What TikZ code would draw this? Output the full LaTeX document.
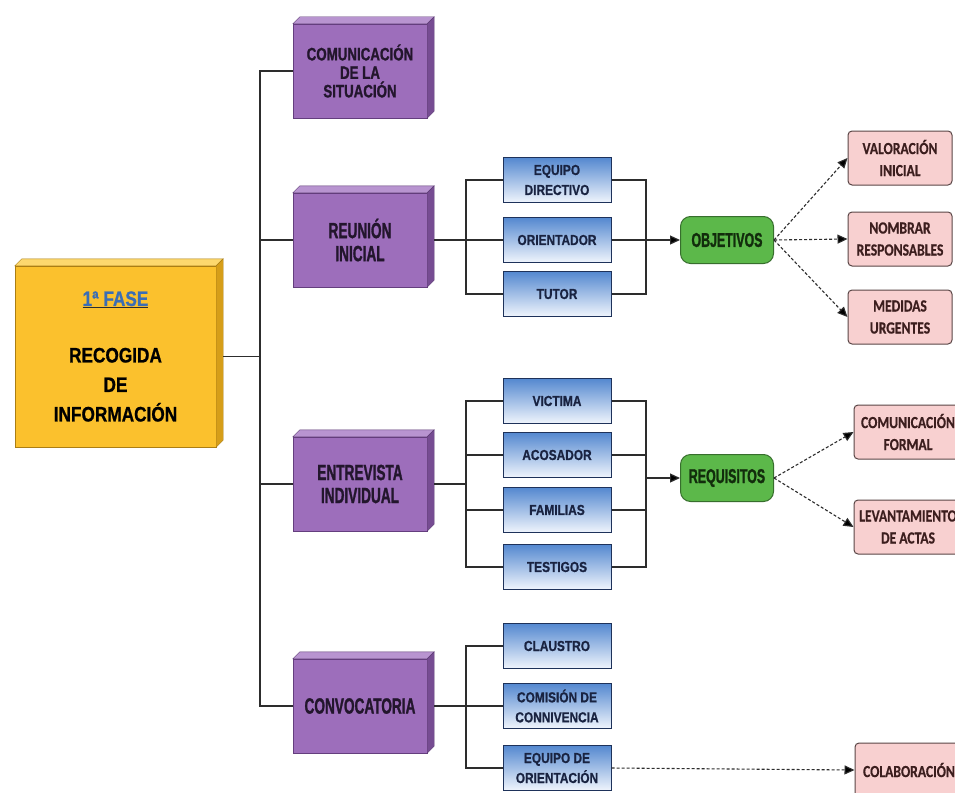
\documentclass[tikz,border=0pt]{standalone}
\usepackage{fontspec}
\setmainfont{Liberation Sans}
\newfontfamily\condfont[FakeStretch=0.62,BoldFeatures={FakeBold=1.2}]{Liberation Sans}
\newfontfamily\comufont[FakeStretch=0.74,BoldFeatures={FakeBold=1.2}]{Liberation Sans}
\newfontfamily\narrowfont[FakeStretch=0.82,BoldFeatures={FakeBold=0.8}]{Liberation Sans}
\newfontfamily\pinkfont[FakeStretch=0.8,BoldFeatures={FakeBold=0.5}]{Carlito}
\usetikzlibrary{arrows.meta}

\definecolor{linegray}{RGB}{45,45,45}
\definecolor{faseyellow}{RGB}{251,193,45}
\definecolor{faseyellowtop}{RGB}{253,216,110}
\definecolor{faseyellowside}{RGB}{214,158,25}
\definecolor{fasetitle}{RGB}{58,109,181}
\definecolor{fasepurple}{RGB}{157,110,187}
\definecolor{fasepurpletop}{RGB}{184,148,208}
\definecolor{fasepurpleside}{RGB}{118,76,146}
\definecolor{purpleline}{RGB}{100,62,126}
\definecolor{purpletext}{RGB}{35,22,45}
\definecolor{bluetop}{RGB}{84,136,208}
\definecolor{bluebottom}{RGB}{240,245,252}
\definecolor{blueline}{RGB}{30,50,90}
\definecolor{bluetext}{RGB}{25,35,65}
\definecolor{greenfill}{RGB}{92,184,74}
\definecolor{greenline}{RGB}{55,110,45}
\definecolor{greentext}{RGB}{18,45,12}
\definecolor{pinkfill}{RGB}{248,208,208}
\definecolor{pinkline}{RGB}{90,70,70}
\definecolor{pinktext}{RGB}{60,30,30}

% top and right faces of a raised box
\newcommand\slab[3]{%
  \filldraw[draw=#3!80!black,fill=#2] (#1.north west) -- ++(7,-7) -- ([shift={(7,-7)}]#1.north east) -- (#1.north east) -- cycle;
  \filldraw[draw=#3!80!black,fill=#3] (#1.north east) -- ++(7,-7) -- ([shift={(7,-7)}]#1.south east) -- (#1.south east) -- cycle;}

\begin{document}
\begin{tikzpicture}[x=1pt,y=-1pt,
  conn/.style={draw=linegray,line width=1.2pt},
  solidarrow/.style={draw=linegray,line width=1.2pt,-{Triangle[length=10pt,width=9pt,fill=black]}},
  dasharrow/.style={draw=linegray,line width=1.1pt,dash pattern=on 3pt off 2pt,-{Triangle[length=10pt,width=9pt,fill=black]}},
  phasebox/.style={draw=faseyellowside!80!black,fill=faseyellow,minimum width=201pt,minimum height=181pt,align=center,
    font=\narrowfont\bfseries\fontsize{21}{29.5}\selectfont},
  stagebox/.style={draw=purpleline,fill=fasepurple,text=purpletext,minimum width=134pt,minimum height=94pt,align=center,
    font=\condfont\bfseries\fontsize{22}{23}\selectfont},
  actorbox/.style={draw=blueline,line width=1pt,top color=bluetop,bottom color=bluebottom,text=bluetext,
    minimum width=108pt,minimum height=45pt,align=center,font=\narrowfont\bfseries\fontsize{14.5}{20}\selectfont},
  goalbox/.style={draw=greenline,line width=1pt,fill=greenfill,text=greentext,rounded corners=10pt,
    minimum width=93pt,minimum height=47pt,font=\condfont\bfseries\fontsize{20}{22}\selectfont},
  taskbox/.style={draw=pinkline,line width=1pt,fill=pinkfill,text=pinktext,rounded corners=4pt,
    minimum width=104pt,minimum height=54pt,align=center,font=\pinkfont\bfseries\fontsize{17}{22}\selectfont}]
\useasboundingbox (0,0) rectangle (955,792);
\fill[white] (0,0) rectangle (955,792);
\clip (0,0) rectangle (955,792);

% fase
    \node[phasebox] (fase) at (115.5,356.5) {{\color{linegray}\underline{\color{fasetitle}1ª FASE}}\\[27pt]RECOGIDA\\DE\\INFORMACIÓN};
    \slab{fase}{faseyellowtop}{faseyellowside}

% stages
    \node[stagebox,font=\comufont\bfseries\fontsize{18}{18.5}\selectfont] (comu) at (360,71) {COMUNICACIÓN\\DE LA\\SITUACIÓN};
    \node[stagebox] (reun) at (360,240) {REUNIÓN\\INICIAL};
    \node[stagebox] (entr) at (360,484) {ENTREVISTA\\INDIVIDUAL};
    \node[stagebox] (conv) at (360,706) {CONVOCATORIA};
    \slab{comu}{fasepurpletop}{fasepurpleside}
    \slab{reun}{fasepurpletop}{fasepurpleside}
    \slab{entr}{fasepurpletop}{fasepurpleside}
    \slab{conv}{fasepurpletop}{fasepurpleside}

% actors
    \node[actorbox] (eqdir) at (557,180) {EQUIPO\\DIRECTIVO};
    \node[actorbox] (orien) at (557,240) {ORIENTADOR};
    \node[actorbox] (tutor) at (557,294) {TUTOR};
    \node[actorbox] (victi) at (557,401) {VICTIMA};
    \node[actorbox] (acosa) at (557,455) {ACOSADOR};
    \node[actorbox] (famil) at (557,510) {FAMILIAS};
    \node[actorbox] (testi) at (557,567) {TESTIGOS};
    \node[actorbox] (claus) at (557,646) {CLAUSTRO};
    \node[actorbox] (comis) at (557,706) {COMISIÓN DE\\CONNIVENCIA};
    \node[actorbox] (eqori) at (557,768) {EQUIPO DE\\ORIENTACIÓN};

% goals
    \node[goalbox] (objet) at (727,240) {OBJETIVOS};
    \node[goalbox] (requi) at (727,478) {REQUISITOS};

% tasks
    \node[taskbox] (valor) at (900,158) {VALORACIÓN\\INICIAL};
    \node[taskbox] (nombr) at (900,239) {NOMBRAR\\RESPONSABLES};
    \node[taskbox] (medid) at (900,317) {MEDIDAS\\URGENTES};
    \node[taskbox,minimum width=108pt] (comfo) at (908,432) {COMUNICACIÓN\\FORMAL};
    \node[taskbox,minimum width=108pt] (levan) at (908,527) {LEVANTAMIENTO\\DE ACTAS};
    \node[taskbox,minimum width=108pt] (colab) at (909,770) {COLABORACIÓN};

% trunk
    \coordinate (trunk) at (260,356);
    \coordinate (splitL) at (466,0);
    \coordinate (joinR) at (646,0);
    \draw[conn] ([xshift=7]fase.east) -- (fase.east -| trunk);
    \draw[conn] (comu.west) -| (trunk) |- (conv.west);
    \draw[conn] (reun.west) -- (reun.west -| trunk);
    \draw[conn] (entr.west) -- (entr.west -| trunk);

% reunion
    \draw[conn] ([xshift=7]reun.east) -- (orien.west);
    \draw[conn] (eqdir.west) -- (eqdir.west -| splitL) -- (tutor.west -| splitL) -- (tutor.west);
    \draw[conn] (eqdir.east) -- (eqdir.east -| joinR) -- (tutor.east -| joinR) -- (tutor.east);
    \draw[solidarrow] (orien.east) -- (objet.west);
    \draw[dasharrow] (objet.east) -- (valor.west);
    \draw[dasharrow] (objet.east) -- (nombr.west);
    \draw[dasharrow] (objet.east) -- (medid.west);

% entrevista
    \draw[conn] ([xshift=7]entr.east) -- (entr.east -| splitL);
    \draw[conn] (victi.west) -- (victi.west -| splitL) -- (testi.west -| splitL) -- (testi.west);
    \draw[conn] (acosa.west) -- (acosa.west -| splitL);
    \draw[conn] (famil.west) -- (famil.west -| splitL);
    \draw[conn] (victi.east) -- (victi.east -| joinR) -- (testi.east -| joinR) -- (testi.east);
    \draw[conn] (acosa.east) -- (acosa.east -| joinR);
    \draw[conn] (famil.east) -- (famil.east -| joinR);
    \draw[solidarrow] (requi.west -| joinR) -- (requi.west);
    \draw[dasharrow] (requi.east) -- (comfo.west);
    \draw[dasharrow] (requi.east) -- (levan.west);

% convocatoria
    \draw[conn] ([xshift=7]conv.east) -- (comis.west);
    \draw[conn] (claus.west) -- (claus.west -| splitL) -- (eqori.west -| splitL) -- (eqori.west);
    \draw[dasharrow] (eqori.east) -- (colab.west);
\end{tikzpicture}
\end{document}
